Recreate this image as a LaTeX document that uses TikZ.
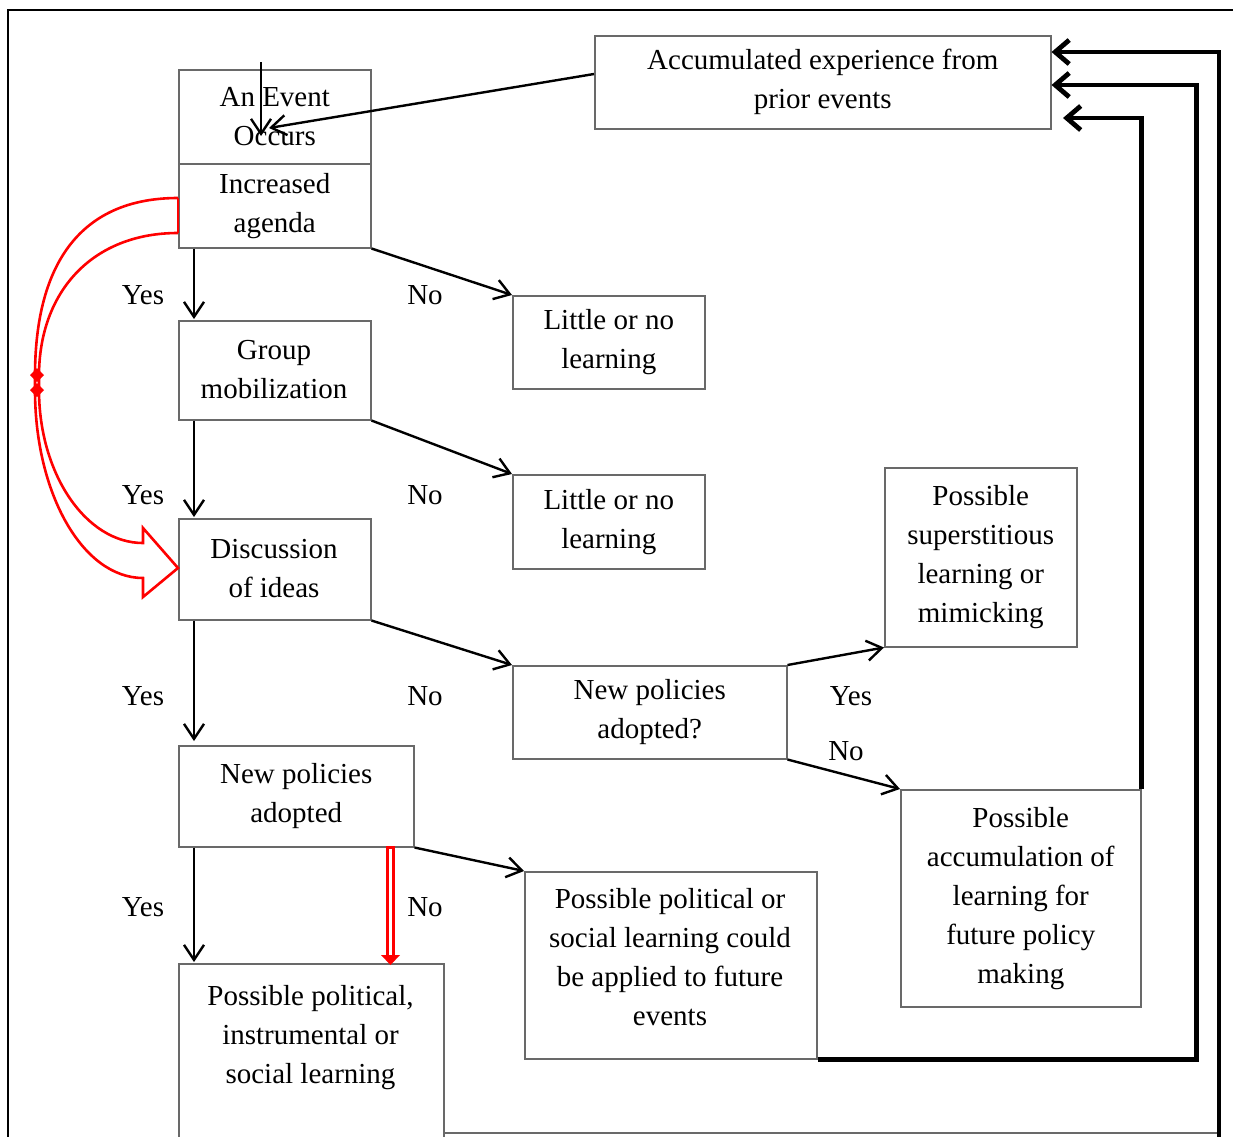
\documentclass[tikz,border=0pt]{standalone}
\usepackage{fontspec}
\setmainfont{Liberation Serif}
\usetikzlibrary{arrows.meta,calc}
\definecolor{boxgray}{RGB}{105,105,105}
\definecolor{redc}{RGB}{255,0,0}
\begin{document}
\begin{tikzpicture}[x=1pt,y=-1pt,
  box/.style={draw=boxgray, line width=1.5pt, anchor=north west, inner sep=0pt, align=center, font=\fontsize{29}{39}\selectfont},
  lbl/.style={inner sep=0pt, align=center, font=\fontsize{29}{39}\selectfont},
  arr/.style={draw=black, line width=2.4pt, -{Straight Barb[length=15pt,width=20pt]}},
  thk/.style={draw=black, line width=4.8pt, line join=miter, -{Straight Barb[length=14pt,width=24pt]}},
  redl/.style={draw=redc, line width=2.6pt}]
\useasboundingbox (0,0) rectangle (1233,1136);
% frame
\draw[line width=2.8pt] (8,1140) -- (8,10) -- (1240,10);
% boxes
\node[box, minimum width=456, minimum height=93] (acc) at (594,35) {Accumulated experience from\\prior events};
\node[box, minimum width=192, minimum height=94] (event) at (178,69) {An Event\\Occurs};
\node[box, minimum width=192, minimum height=84] (agenda) at (178,163) {Increased\\agenda};
\node[box, minimum width=192, minimum height=93] (little1) at (512,295) {Little or no\\learning};
\node[box, minimum width=192, minimum height=99] (group) at (178,320) {};
\node[lbl] (grouptxt) at (274,370) {Group\\mobilization};
\node[box, minimum width=192, minimum height=94] (little2) at (512,474) {Little or no\\learning};
\node[box, minimum width=192, minimum height=179] (sup) at (884,467) {Possible\\superstitious\\learning or\\mimicking};
\node[box, minimum width=192, minimum height=101] (disc) at (178,518) {};
\node[lbl] (disctxt) at (274,568.5) {Discussion\\of ideas};
\node[box, minimum width=274, minimum height=93] (npq) at (512,665) {New policies\\adopted?};
\node[box, minimum width=235, minimum height=101] (newpol) at (178,745) {New policies\\adopted};
\node[box, minimum width=240, minimum height=217] (accum) at (900,789) {Possible\\accumulation of\\learning for\\future policy\\making};
\node[box, minimum width=292, minimum height=187] (apply) at (524,871) {};
\node[lbl] (applytxt) at (670,957) {Possible political or\\social learning could\\be applied to future\\events};
\node[box, minimum width=265, minimum height=180] (bottom) at (178,963) {};
\node[lbl] (bottomtxt) at (310.5,1038) {Possible political,\\instrumental or\\social learning};
% labels
\node[lbl] (y1) at (143,295) {Yes};
\node[lbl] (y2) at (143,495) {Yes};
\node[lbl] (y3) at (143,696) {Yes};
\node[lbl] (y4) at (143,907) {Yes};
\node[lbl] (n1) at (425,295) {No};
\node[lbl] (n2) at (425,495) {No};
\node[lbl] (n3) at (425,696) {No};
\node[lbl] (n4) at (425,907) {No};
\node[lbl] (y5) at (851,696) {Yes};
\node[lbl] (n5) at (846,751) {No};
% arrows into event
\coordinate (vtop) at (261,62);
\coordinate (vtip) at (261,136);
\coordinate (dtip) at (269,128);
\draw[arr] (vtop) -- (vtip);
\draw[arr] ($(acc.north west)+(0,39)$) -- (dtip);
% Yes arrows
\draw[arr] ($(agenda.south west)+(16,0)$) -- ($(group.north west)+(16,-1)$);
\draw[arr] ($(group.south west)+(16,0)$) -- ($(disc.north west)+(16,-1)$);
\draw[arr] ($(disc.south west)+(16,0)$) -- ($(newpol.north west)+(16,-4)$);
\draw[arr] ($(newpol.south west)+(16,0)$) -- ($(bottom.north west)+(16,-1)$);
% No arrows
\draw[arr] (agenda.south east) -- (little1.north west);
\draw[arr] (group.south east) -- (little2.north west);
\draw[arr] (disc.south east) -- (npq.north west);
\draw[arr] (npq.north east) -- (sup.south west);
\draw[arr] (npq.south east) -- (accum.north west);
\draw[arr] (newpol.south east) -- (apply.north west);
% thick feedback lines
\coordinate (t3) at (1063,118);
\draw[thk] (accum.north east) -- (accum.north east |- t3) -- (t3);
\draw[thk] (apply.south east) -| ($(acc.north east)+(145,50)$) -- ($(acc.north east)+(0,50)$);
\coordinate (c1) at (1219,1140);
\draw[thk] (c1) -- (1219,52) -- ($(acc.north east)+(0,17)$);
\draw[boxgray, line width=1.5pt] (bottom.north east |- 0,1133) -- (1217,1133);
% red curved arrow
\draw[redl] ($(agenda.north west)+(0,35)$) -- ($(agenda.north west)+(0,70)$);
\draw[redl, line join=miter] ($(agenda.north west)+(0,35)$) .. controls (82,198) and (35,262) .. (35,376) -- (35,390)
   .. controls (35,494) and (83,578) .. (143,578) -- (143,597) -- (178,568) -- (143,528) -- (143,543)
   .. controls (86,543) and (39,474) .. (39,390) -- (39,376)
   .. controls (39,292) and (92,233) .. ($(agenda.north west)+(0,70)$);
\fill[redc] (37,368) -- (44,375) -- (37,382) -- (30,375) -- cycle;
\fill[redc] (37,383) -- (44,390) -- (37,397) -- (30,390) -- cycle;
% red double arrow
\draw[redc, line width=2.2pt] ($(newpol.south west)+(209.5,0)$) rectangle ($(bottom.north west)+(215.5,-7)$);
\fill[redc] ($(bottom.north west)+(203,-8)$) -- ($(bottom.north west)+(222,-8)$) -- ($(bottom.north west)+(212.5,2)$) -- cycle;
\end{tikzpicture}
\end{document}
